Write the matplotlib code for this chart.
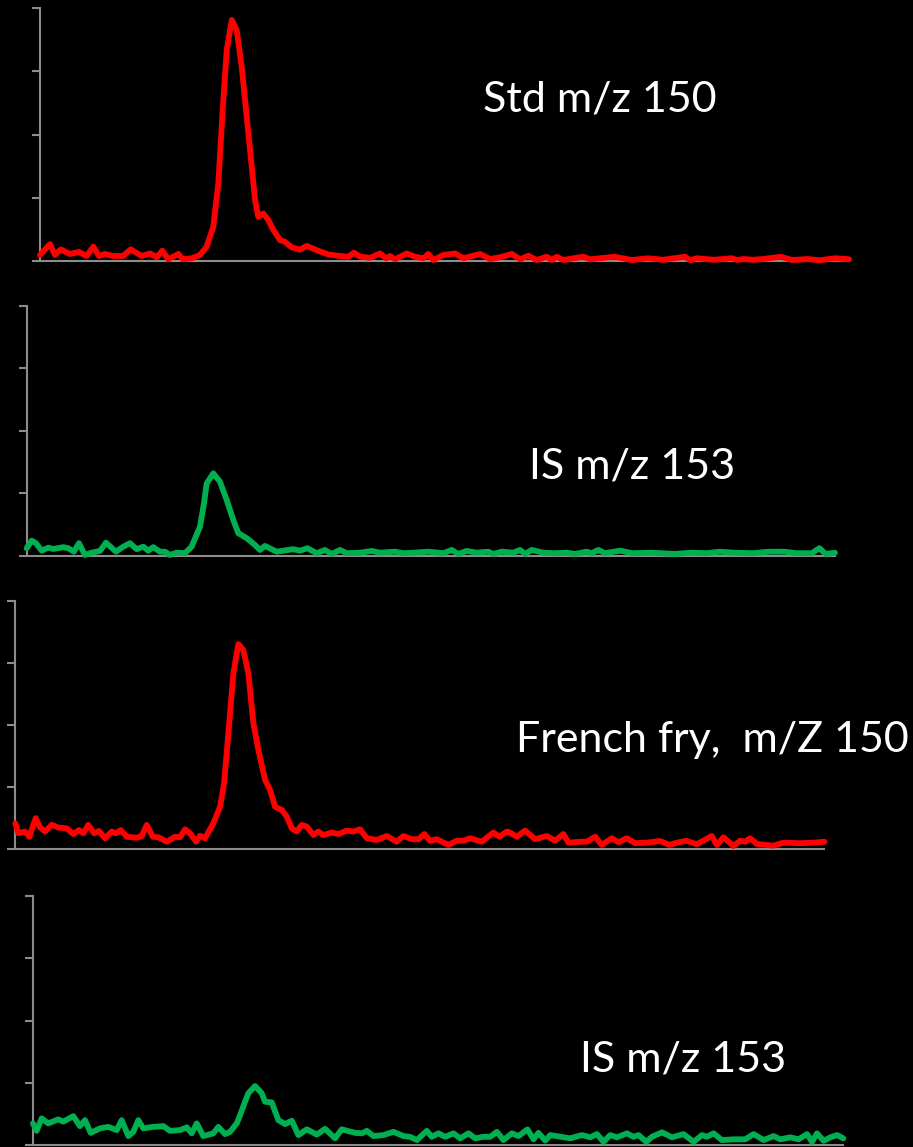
import matplotlib
matplotlib.use("Agg")
import matplotlib.pyplot as plt

# chromatogram traces, x = % of run shown, y = % of full scale
std150_x = [0, 1.24, 1.85, 2.56, 3.71, 4.82, 5.77, 6.59, 7.29, 8.03, 9.02, 10.26, 11.21, 12.57,
            13.6, 14.43, 15.12, 15.86, 17.1, 17.64, 18.75, 19.78, 20.6, 21.42, 22.04, 22.58,
            23.08, 23.7, 24.31, 24.93, 25.55, 26.17, 26.58, 26.98, 27.6, 28.22, 28.84, 29.67,
            30.28, 31.11, 32.14, 32.97, 34.2, 35.64, 37.08, 38.11, 38.81, 39.56, 40.79, 42.03,
            42.77, 43.26, 43.88, 45.33, 46.35, 47.38, 48.0, 48.62, 49.85, 51.3, 52.32, 54.39,
            55.62, 56.86, 58.31, 59.33, 60.36, 61.4, 62.63, 63.25, 63.87, 64.68, 65.92, 67.16,
            67.99, 69.22, 71.01, 73.18, 75.12, 77.01, 79.7, 80.42, 81.15, 83.31, 85.49, 86.22,
            86.95, 88.13, 89.36, 91.53, 92.96, 94.91, 96.35, 98.27, 100]
std150_y = [2.4, 6.7, 2.4, 4.6, 2.8, 3.6, 2.0, 5.7, 2.0, 2.8, 2.0, 2.0, 4.6, 2.0,
            3.0, 1.5, 4.1, 0.7, 2.8, 0.7, 1.1, 2.4, 5.7, 13.6, 30.7, 59.7,
            83.4, 95.3, 91.3, 76.8, 57.0, 37.3, 24.1, 17.5, 18.8, 16.2, 12.3, 8.3,
            7.6, 5.4, 4.5, 6.0, 4.3, 2.6, 2.0, 1.7, 3.3, 1.7, 1.3, 3.0,
            1.1, 2.0, 0.7, 3.0, 1.7, 1.1, 2.8, 0.4, 2.4, 3.0, 1.1, 2.8,
            0.8, 1.5, 2.8, 0.7, 2.1, 0.4, 1.7, 0.4, 1.7, 0.4, 1.1, 1.7,
            0.7, 1.1, 1.7, 0.4, 1.1, 0.5, 1.7, 0.3, 1.1, 0.5, 1.1, 0.4,
            0.8, 0.5, 0.8, 1.7, 0.4, 0.8, 0.3, 1.1, 0.7]

is153_x = [0, 0.62, 1.15, 1.86, 2.67, 3.29, 4.53, 5.15, 5.85, 6.47, 7.21, 8.04, 9.07, 9.81,
           11.05, 11.95, 12.78, 13.61, 14.43, 15.04, 15.66, 16.49, 17.11, 17.73, 18.56,
           19.58, 20.41, 21.44, 21.94, 22.27, 23.09, 23.91, 24.74, 25.56, 26.18, 27.22,
           28.24, 28.86, 29.48, 30.93, 32.98, 33.81, 34.72, 35.88, 36.9, 37.73, 38.76,
           39.59, 41.24, 42.68, 43.71, 45.56, 46.59, 47.83, 49.68, 51.54, 52.58, 53.4,
           54.43, 55.67, 57.11, 57.73, 58.77, 60.2, 61.03, 61.65, 62.48, 63.91, 65.15,
           66.81, 67.83, 69.28, 69.9, 70.72, 71.51, 73.44, 74.89, 77.31, 80.2, 82.13,
           84.08, 85.76, 87.45, 89.87, 91.81, 93.74, 95.19, 97.12, 98.08, 98.81, 100]
is153_y = [3.1, 6.1, 5.1, 2.1, 3.3, 2.8, 3.5, 3.1, 1.7, 5.1, 0.4, 1.3, 2.0, 5.3,
           1.7, 3.7, 5.1, 2.7, 3.7, 2.1, 3.5, 1.7, 1.7, 0.4, 1.3,
           1.1, 3.7, 11.7, 21.1, 29.0, 33.0, 29.7, 22.4, 14.4, 9.1, 7.1,
           4.4, 2.4, 4.0, 1.7, 2.7, 2.1, 3.1, 1.1, 2.4, 0.8, 2.4,
           1.1, 1.3, 2.0, 1.3, 1.7, 1.1, 1.3, 1.7, 1.1, 2.4, 0.8,
           2.0, 1.3, 1.7, 0.8, 1.7, 1.3, 2.4, 0.8, 2.4, 1.3, 1.1,
           1.3, 0.8, 1.7, 1.1, 2.4, 1.1, 2.1, 1.1, 1.3, 0.8, 1.3,
           1.1, 1.7, 1.3, 1.1, 1.7, 1.7, 1.1, 1.1, 3.1, 0.8, 1.3]

fry150_x = [0, 0.37, 1.2, 1.73, 2.52, 3.05, 3.67, 4.5, 5.32, 6.35, 7.17, 7.87, 8.41, 9.02,
            9.73, 10.35, 11.09, 11.92, 12.45, 13.03, 13.77, 15.01, 15.62, 16.24, 16.98,
            17.68, 18.71, 19.74, 20.36, 20.98, 21.59, 22.34, 22.83, 23.45, 24.47, 25.3,
            25.8, 26.33, 26.95, 27.56, 28.18, 28.8, 29.42, 30.04, 30.87, 31.48, 32.1,
            32.93, 33.55, 34.17, 34.78, 35.4, 36.02, 36.84, 37.45, 38.07, 39.11, 39.93,
            40.96, 41.78, 42.61, 43.44, 44.67, 45.91, 47.14, 47.96, 49.0, 49.81, 50.56,
            51.26, 52.09, 53.52, 54.56, 55.38, 56.2, 57.65, 59.09, 59.83, 60.74, 61.15,
            61.98, 63.0, 64.24, 65.69, 66.71, 67.74, 68.36, 69.8, 70.63, 71.66, 72.48,
            73.72, 74.54, 75.57, 76.6, 78.05, 79.69, 80.84, 81.76, 82.91, 84.23, 86.08,
            86.7, 87.52, 88.75, 89.58, 90.2, 90.81, 91.64, 93.7, 94.93, 96.99, 98.64, 100]
fry150_y = [10.2, 6.2, 6.9, 4.8, 12.3, 8.6, 6.9, 9.6, 8.5, 8.2, 5.9, 7.5, 6.2, 9.6,
            6.2, 7.1, 4.2, 6.9, 6.2, 7.5, 4.8, 4.4, 5.1, 9.6, 4.8,
            4.6, 2.8, 4.8, 4.6, 7.8, 6.2, 2.8, 5.2, 4.2, 10.2, 16.9,
            26.4, 46.5, 70.7, 82.5, 80.1, 70.7, 50.6, 39.8, 27.7, 23.7, 16.9,
            15.6, 12.9, 8.2, 6.9, 9.6, 8.9, 5.5, 6.9, 5.5, 6.5, 5.9,
            7.3, 6.9, 7.8, 4.2, 3.5, 5.1, 2.8, 5.1, 3.8, 3.8, 5.9,
            3.2, 3.8, 1.5, 3.2, 3.2, 4.2, 2.8, 6.5, 4.8, 6.9, 6.5,
            4.8, 7.3, 3.8, 5.1, 3.2, 5.9, 2.4, 2.8, 2.8, 4.8, 1.5,
            4.2, 2.6, 4.2, 2.2, 2.4, 3.1, 1.5, 2.4, 3.2, 1.8, 5.1,
            1.5, 4.6, 1.1, 3.2, 2.8, 4.2, 1.9, 1.2, 2.4, 2.2, 2.4, 2.8]

fryis_x = [0, 0.46, 1.07, 1.89, 3.12, 3.74, 4.98, 5.8, 6.42, 7.12, 8.27, 9.3, 10.33, 10.95,
           11.77, 12.38, 13.0, 13.62, 14.85, 16.09, 16.91, 18.15, 18.98, 19.59, 20.21,
           21.02, 22.26, 22.88, 23.7, 24.32, 25.15, 25.56, 26.17, 26.58, 27.41, 28.23,
           28.64, 29.47, 30.28, 31.11, 31.94, 32.75, 33.79, 35.02, 36.05, 37.28, 38.11,
           39.75, 40.58, 41.2, 42.01, 43.25, 44.48, 45.72, 46.54, 47.37, 48.6, 49.22,
           50.04, 50.86, 51.89, 52.72, 53.74, 54.57, 55.59, 56.42, 57.25, 58.06, 59.1,
           59.91, 61.02, 61.77, 62.38, 63.21, 63.83, 66.3, 67.74, 68.77, 69.59, 70.41,
           71.23, 72.06, 73.3, 74.11, 74.73, 75.68, 76.38, 77.62, 78.85, 80.28, 81.52,
           82.56, 83.17, 83.99, 85.02, 86.46, 87.9, 88.93, 90.16, 91.4, 92.22, 93.46,
           94.48, 95.52, 96.14, 96.75, 97.57, 98.4, 99.22, 100]
fryis_y = [8.7, 5.7, 10.7, 8.7, 10.3, 9.4, 11.6, 7.6, 10.0, 4.9, 6.7, 7.3, 6.0, 10.0,
           3.6, 5.3, 10.0, 6.7, 7.3, 7.6, 5.7, 6.0, 7.1, 4.7, 8.7,
           3.6, 4.7, 7.3, 4.4, 5.3, 8.7, 12.0, 17.4, 20.8, 23.7, 20.8,
           17.4, 17.1, 10.0, 8.4, 9.8, 4.0, 6.3, 4.2, 6.5, 2.7, 6.3,
           4.9, 4.7, 5.7, 3.6, 4.0, 5.3, 3.6, 3.3, 2.0, 5.7, 3.3,
           4.7, 3.3, 4.7, 2.7, 4.7, 2.7, 3.3, 3.3, 5.3, 2.0, 4.7,
           3.6, 6.3, 2.3, 4.9, 1.8, 4.0, 2.7, 4.0, 3.1, 4.4, 1.3,
           4.0, 3.1, 4.7, 3.3, 4.0, 1.3, 3.3, 5.1, 3.1, 4.4, 1.3,
           4.0, 3.3, 4.7, 2.0, 2.3, 2.3, 4.4, 2.0, 3.6, 2.3, 3.1,
           2.3, 4.4, 1.3, 4.7, 1.7, 3.1, 4.0, 2.7]

labels = ["Std m/z 150", "IS m/z 153", "French fry,  m/Z 150", "IS m/z 153"]
traces = [(std150_x, std150_y), (is153_x, is153_y), (fry150_x, fry150_y), (fryis_x, fryis_y)]
colors = ["#FF0000", "#00B050", "#FF0000", "#00B050"]

# axes boxes [left, bottom, width, height] in figure fractions
boxes = [[0.0438, 0.7724, 0.8862, 0.2206],
         [0.0292, 0.5153, 0.8854, 0.2182],
         [0.0168, 0.2601, 0.8862, 0.2162],
         [0.0361, 0.0017, 0.8876, 0.2171]]
label_pos = [(600, 100), (632, 467), (712, 740), (683, 1060)]

fig = plt.figure(figsize=(9.13, 11.47), dpi=100, facecolor="black")

for i in range(4):
    ax = fig.add_axes(boxes[i])
    ax.set_facecolor("black")
    x, y = traces[i]
    ax.plot(x, y, color=colors[i], lw=4.2, solid_joinstyle="round",
            solid_capstyle="round", clip_on=False, zorder=3)
    ax.set_xlim(0, 100)
    ax.set_ylim(0, 100)
    ax.set_yticks([0, 25, 50, 75, 100])
    ax.set_yticklabels([])
    ax.set_xticks([])
    for s in ["top", "right"]:
        ax.spines[s].set_visible(False)
    for s in ["left", "bottom"]:
        ax.spines[s].set_color("#8c8c8c")
        ax.spines[s].set_linewidth(1.5)
    ax.tick_params(axis="y", direction="out", length=6, width=1.5, color="#8c8c8c")

for lab, (px, py) in zip(labels, label_pos):
    fig.text(px / 913, 1 - py / 1147, lab, color="white", fontsize=31,
             family=["Lato", "DejaVu Sans"], ha="center", va="center")

fig.savefig("out.png", dpi=100, facecolor="black")
